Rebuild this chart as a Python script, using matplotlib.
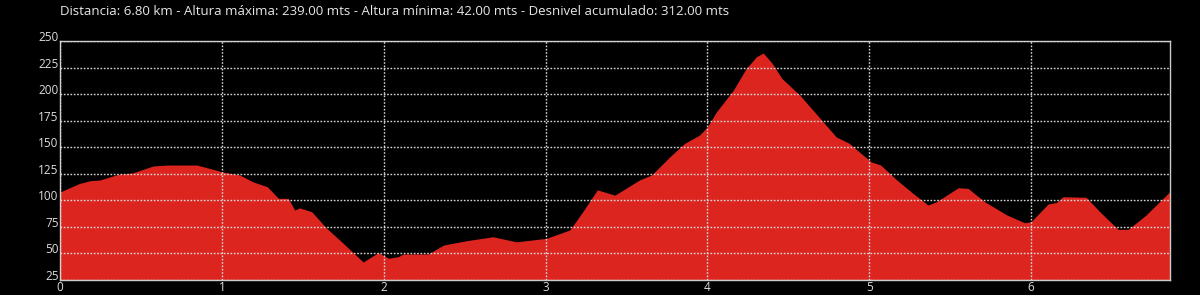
import matplotlib.pyplot as plt

# elevation profile (km, metres)
dist_km = [0.0, 0.12, 0.185, 0.247, 0.36, 0.45, 0.575, 0.66, 0.845, 0.945,
           1.0, 1.11, 1.19, 1.28, 1.35, 1.41, 1.45, 1.48, 1.555, 1.647,
           1.75, 1.873, 1.966, 2.03, 2.09, 2.12, 2.275, 2.37, 2.51, 2.675,
           2.82, 3.006, 3.15, 3.23, 3.32, 3.428, 3.58, 3.655, 3.768, 3.86,
           3.952, 4.0, 4.056, 4.16, 4.24, 4.303, 4.345, 4.4, 4.46, 4.57,
           4.67, 4.795, 4.876, 5.01, 5.07, 5.17, 5.27, 5.363, 5.415, 5.55,
           5.61, 5.713, 5.85, 5.96, 6.0, 6.105, 6.156, 6.197, 6.34, 6.424,
           6.537, 6.6, 6.71, 6.855]
elev_m = [108, 116, 118.6, 119.3, 124.6, 126, 132.5, 133.4, 133.4, 129.4,
          127, 124, 117.7, 113, 102, 102, 91, 93, 89.4, 73.8,
          59.6, 42, 50.8, 45.5, 47, 49.5, 49.5, 58, 62, 65.8,
          61, 64.3, 72.2, 89.4, 110, 105, 119.3, 124, 141.2, 153.9,
          161.7, 169.5, 183.6, 204, 224.5, 235.5, 239, 229.3, 215, 199.4,
          182, 160, 153.9, 136.5, 133.4, 119.3, 106.7, 95.7, 98.8, 112,
          111.4, 98.8, 86.3, 79, 80, 96.7, 98, 103.5, 103, 89.4,
          72.8, 72.8, 86.3, 108]

y_ticks = [25, 50, 75, 100, 125, 150, 175, 200, 225, 250]
x_ticks = [0, 1, 2, 3, 4, 5, 6]

title = ("Distancia: 6.80 km - Altura máxima: 239.00 mts - Altura mínima: "
         "42.00 mts - Desnivel acumulado: 312.00 mts")

plt.rcParams['font.family'] = ['Open Sans', 'DejaVu Sans']

fig = plt.figure(figsize=(12, 2.95), dpi=100, facecolor='black')
ax = fig.add_axes([0.05, 0.0508, 0.925, 0.809])
ax.set_facecolor('black')

ax.fill_between(dist_km, elev_m, 25, color='#dd2520', linewidth=0, zorder=1)

ax.set_xlim(0, 6.858)
ax.set_ylim(25, 250)
ax.set_xticks(x_ticks)
ax.set_yticks(y_ticks)
ax.set_xticklabels([str(v) for v in x_ticks])
ax.set_yticklabels([str(v) for v in y_ticks])
for lab in ax.get_yticklabels():
    lab.set_va('baseline')

ax.tick_params(length=0, colors='#dddddd', labelsize=8.5)
ax.tick_params(axis='y', pad=1)
ax.tick_params(axis='x', pad=1)

ax.set_axisbelow(False)
ax.grid(True, color='#d8d8d8', linestyle=(0, (1.2, 1.2)), linewidth=1.0)

for sp in ax.spines.values():
    sp.set_color('#cccccc')
    sp.set_linewidth(1.0)

fig.text(0.05, 0.962, title, color='#e8e8e8', fontsize=9.5, ha='left', va='center')

fig.savefig('out.png', dpi=100, facecolor='black')
